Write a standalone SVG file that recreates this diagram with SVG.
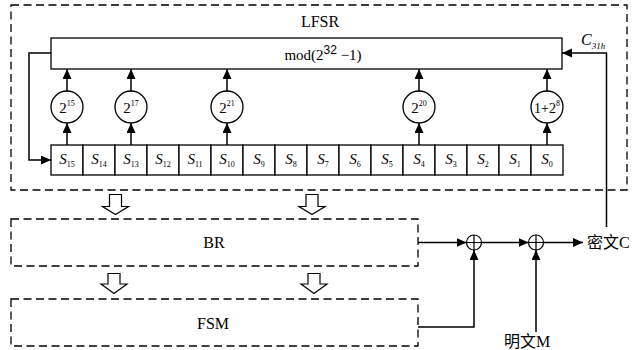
<svg xmlns="http://www.w3.org/2000/svg" width="638" height="350" viewBox="0 0 638 350">
<style>
  text { font-family: 'Liberation Serif', 'Times New Roman', serif; fill: #000; }
  .cjk { font-family: 'Liberation Serif', 'Noto Sans CJK SC', serif; }
  .dash { fill: none; stroke: #000; stroke-width: 1.3; stroke-dasharray: 8 4.5; }
  .box { fill: #fff; stroke: #000; stroke-width: 1.3; }
  .line { fill: none; stroke: #000; stroke-width: 1.2; }
  .arr { fill: none; stroke: #000; stroke-width: 1.5; marker-end: url(#ah); }
  .hollow { fill: #fff; stroke: #000; stroke-width: 1.2; stroke-linejoin: miter; }
  .cell { fill: #fff; stroke: #000; stroke-width: 1.3; }
  .s { font-style: italic; font-size: 15px; }
  .sub { font-style: normal; font-size: 8px; }
</style>
<defs>
  <marker id="ah" markerUnits="userSpaceOnUse" markerWidth="12" markerHeight="10" refX="10" refY="4.5" orient="auto">
    <path d="M0,0 L10,4.5 L0,9 Z" fill="#000"/>
  </marker>
</defs>

<g id="lfsr">
  <rect class="dash" x="11" y="5" width="616" height="185"/>
  <text x="320" y="27" font-size="16" text-anchor="middle">LFSR</text>
</g>

<g id="mod">
  <rect class="box" x="51" y="38" width="511" height="31"/>
  <text x="323" y="60" font-size="15" text-anchor="middle">mod(2<tspan style="font-family:'Liberation Sans',sans-serif" font-size="12" dy="-6">32</tspan><tspan dy="6"> −1)</tspan></text>
</g>

<g id="register">
  <rect class="cell" x="51" y="145" width="32" height="30"/>
  <rect class="cell" x="83" y="145" width="32" height="30"/>
  <rect class="cell" x="115" y="145" width="32" height="30"/>
  <rect class="cell" x="147" y="145" width="32" height="30"/>
  <rect class="cell" x="179" y="145" width="32" height="30"/>
  <rect class="cell" x="211" y="145" width="32" height="30"/>
  <rect class="cell" x="243" y="145" width="32" height="30"/>
  <rect class="cell" x="275" y="145" width="32" height="30"/>
  <rect class="cell" x="307" y="145" width="32" height="30"/>
  <rect class="cell" x="339" y="145" width="32" height="30"/>
  <rect class="cell" x="371" y="145" width="32" height="30"/>
  <rect class="cell" x="403" y="145" width="32" height="30"/>
  <rect class="cell" x="435" y="145" width="32" height="30"/>
  <rect class="cell" x="467" y="145" width="32" height="30"/>
  <rect class="cell" x="499" y="145" width="32" height="30"/>
  <rect class="cell" x="531" y="145" width="32" height="30"/>
  <g class="s" text-anchor="middle">
    <text x="67" y="164">S<tspan class="sub" dy="3">15</tspan></text>
    <text x="99" y="164">S<tspan class="sub" dy="3">14</tspan></text>
    <text x="131" y="164">S<tspan class="sub" dy="3">13</tspan></text>
    <text x="163" y="164">S<tspan class="sub" dy="3">12</tspan></text>
    <text x="195" y="164">S<tspan class="sub" dy="3">11</tspan></text>
    <text x="227" y="164">S<tspan class="sub" dy="3">10</tspan></text>
    <text x="259" y="164">S<tspan class="sub" dy="3">9</tspan></text>
    <text x="291" y="164">S<tspan class="sub" dy="3">8</tspan></text>
    <text x="323" y="164">S<tspan class="sub" dy="3">7</tspan></text>
    <text x="355" y="164">S<tspan class="sub" dy="3">6</tspan></text>
    <text x="387" y="164">S<tspan class="sub" dy="3">5</tspan></text>
    <text x="419" y="164">S<tspan class="sub" dy="3">4</tspan></text>
    <text x="451" y="164">S<tspan class="sub" dy="3">3</tspan></text>
    <text x="483" y="164">S<tspan class="sub" dy="3">2</tspan></text>
    <text x="515" y="164">S<tspan class="sub" dy="3">1</tspan></text>
    <text x="547" y="164">S<tspan class="sub" dy="3">0</tspan></text>
  </g>
</g>

<g id="mul15">
  <circle class="box" cx="67" cy="107" r="16"/>
  <text x="67" y="113" font-size="15" text-anchor="middle">2<tspan font-size="8" dy="-7">15</tspan></text>
</g>
<g id="mul17">
  <circle class="box" cx="131" cy="107" r="16"/>
  <text x="131" y="113" font-size="15" text-anchor="middle">2<tspan font-size="8" dy="-7">17</tspan></text>
</g>
<g id="mul21">
  <circle class="box" cx="227" cy="107" r="16"/>
  <text x="227" y="113" font-size="15" text-anchor="middle">2<tspan font-size="8" dy="-7">21</tspan></text>
</g>
<g id="mul20">
  <circle class="box" cx="419" cy="107" r="16"/>
  <text x="419" y="113" font-size="15" text-anchor="middle">2<tspan font-size="8" dy="-7">20</tspan></text>
</g>
<g id="mul8">
  <circle class="box" cx="547" cy="107" r="16"/>
  <text x="547" y="113" font-size="14" text-anchor="middle">1+2<tspan font-size="8" dy="-7">8</tspan></text>
</g>

<g id="c31h">
  <text x="581" y="45" font-size="16" font-style="italic">C<tspan font-size="9" dy="4">31h</tspan></text>
</g>

<g id="br">
  <rect class="dash" x="11" y="219" width="407" height="47"/>
  <text x="214" y="248" font-size="16" text-anchor="middle">BR</text>
</g>

<g id="fsm">
  <rect class="dash" x="11" y="299" width="407" height="47"/>
  <text x="213" y="329" font-size="16" text-anchor="middle">FSM</text>
</g>

<g id="xor1">
  <circle cx="474" cy="242.5" r="7.5" fill="#fff" stroke="#000" stroke-width="1.2"/>
  <path class="line" d="M466.5,242.5 H481.5 M474,235 V250"/>
</g>
<g id="xor2">
  <circle cx="536" cy="242.5" r="7.5" fill="#fff" stroke="#000" stroke-width="1.2"/>
  <path class="line" d="M528.5,242.5 H543.5 M536,235 V250"/>
</g>

<g id="cipher">
  <text class="cjk" x="587" y="248" font-size="16">密文C</text>
</g>
<g id="plain">
  <text class="cjk" x="527" y="347" font-size="16" text-anchor="middle">明文M</text>
</g>

<g id="connectors">
  <path class="arr" d="M51,53 H29 V160 H51"/>
  <path class="arr" d="M606.5,227 V53 H562"/>
  <path class="arr" d="M67,145 V123"/>
  <path class="arr" d="M67,91 V69"/>
  <path class="arr" d="M131,145 V123"/>
  <path class="arr" d="M131,91 V69"/>
  <path class="arr" d="M227,145 V123"/>
  <path class="arr" d="M227,91 V69"/>
  <path class="arr" d="M419,145 V123"/>
  <path class="arr" d="M419,91 V69"/>
  <path class="arr" d="M547,145 V123"/>
  <path class="arr" d="M547,91 V69"/>
  <path class="arr" d="M418,242.5 H466.5"/>
  <path class="arr" d="M481.5,242.5 H528.5"/>
  <path class="arr" d="M543.5,242.5 H583"/>
  <path class="arr" d="M418,327 H474 V250"/>
  <path class="arr" d="M536,332 V250"/>
  <path class="hollow" d="M109.5,194.5 H121.5 V206.5 H128.5 L115.5,214.5 L102.5,206.5 H109.5 Z"/>
  <path class="hollow" d="M306,194.5 H318 V206.5 H325 L312,214.5 L299,206.5 H306 Z"/>
  <path class="hollow" d="M108,273.5 H120 V284 H127 L114,293.5 L101,284 H108 Z"/>
  <path class="hollow" d="M308,273.5 H320 V284 H327 L314,293.5 L301,284 H308 Z"/>
</g>
</svg>
